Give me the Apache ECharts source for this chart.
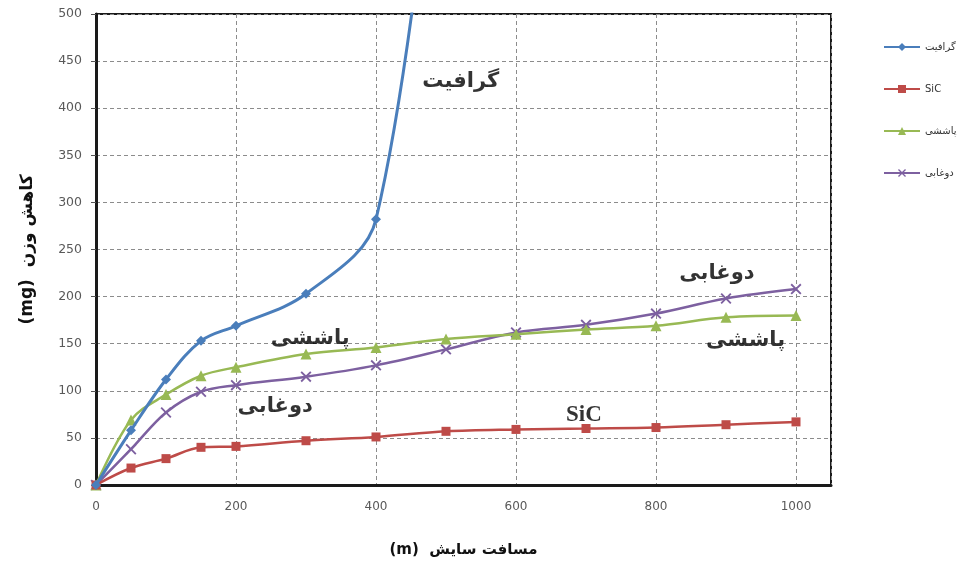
<!DOCTYPE html>
<html><head><meta charset="utf-8">
<script src="https://cdn.jsdelivr.net/npm/echarts@6/dist/echarts.min.js"></script>
<style>html,body{margin:0;padding:0;background:#fff}#c{width:960px;height:563px}</style>
</head><body><div id="c"></div><script>
// Wear distance (m) and weight loss (mg) for four surface treatments
const distance = [0, 50, 100, 150, 200, 300, 400, 500, 600, 700, 800, 900, 1000];
const graphite = [0, 58, 112, 153, 169, 203, 282, 830]; // last reading runs off the top of the scale
const sic      = [0, 18, 28, 40, 41, 47, 51, 57, 59, 60, 61, 64, 67];
const sprayed  = [0, 69, 96, 116, 125, 139, 146, 155, 160, 165, 169, 178, 180];
const slurry   = [0, 38, 77, 99, 106, 115, 127, 144, 162, 170, 182, 198, 208];
const seriesNames = ['گرافیت', 'SiC', 'پاششی', 'دوغابی'];
const yTicks = [0, 500, 50];   // min, max, step
const xTicks = [0, 1050, 200];

// in-plot captions, placed in data coordinates
const notes = [
  { text: 'گرافیت', at: [521, 428] },
  { text: 'پاششی', at: [306, 156] },
  { text: 'دوغابی', at: [256, 83] },
  { text: 'SiC', at: [697, 74] },
  { text: 'دوغابی', at: [887, 224] },
  { text: 'پاششی', at: [928, 153] }
];

const pairs = vals => vals.map((v, i) => [distance[i], v]);
const crossPath = 'path://M0,1.2L1.2,0L5,3.8L8.8,0L10,1.2L6.2,5L10,8.8L8.8,10L5,6.2L1.2,10L0,8.8L3.8,5Z';

const colors = ['#4a7ebb', '#be4b48', '#98b954', '#7d60a0'];
const symbols = ['diamond', 'rect', 'triangle', crossPath];
const sizes = [10, 9, 11, 11];
const widths = [3, 2.5, 2.5, 2.5];
const dataSets = [graphite, sic, sprayed, slurry];

const lineSeries = dataSets.map((d, k) => ({
  name: seriesNames[k],
  type: 'line',
  data: pairs(d),
  smooth: 0.35,
  clip: true,
  symbol: symbols[k],
  symbolSize: sizes[k],
  showAllSymbol: true,
  lineStyle: { color: colors[k], width: widths[k] },
  itemStyle: { color: colors[k] },
  z: 3 + (3 - k)
}));

const noteSeries = {
  name: 'captions',
  type: 'scatter',
  symbolSize: 1,
  itemStyle: { color: 'transparent' },
  silent: true,
  z: 10,
  data: notes.map(n => ({
    value: n.at,
    label: {
      show: true,
      position: 'inside',
      formatter: n.text,
      color: '#000',
      textBorderWidth: 0,
      fontWeight: 'bold',
      fontSize: n.text === 'SiC' ? 23 : 21,
      fontFamily: n.text === 'SiC' ? '"Liberation Serif", serif' : '"DejaVu Sans", sans-serif'
    }
  }))
};

const chart = echarts.init(document.getElementById('c'), null, { renderer: 'canvas' });
chart.setOption({
  animation: false,
  backgroundColor: '#fff',
  grid: {
    left: 96, right: 129, top: 14, bottom: 73,
    show: true, borderColor: '#1a1a1a', borderWidth: 2, backgroundColor: 'transparent'
  },
  legend: {
    data: seriesNames,
    orient: 'vertical',
    left: 878,
    top: 37,
    itemGap: 32,
    itemWidth: 36,
    itemHeight: 10,
    textStyle: { fontSize: 10, color: '#333', fontFamily: '"DejaVu Sans", sans-serif' }
  },
  xAxis: {
    type: 'value',
    min: xTicks[0], max: xTicks[1], interval: xTicks[2],
    name: '(m)  مسافت سایش',
    nameLocation: 'middle',
    nameGap: 58,
    nameTextStyle: { fontSize: 15, fontWeight: 'bold', color: '#111', fontFamily: '"DejaVu Sans", sans-serif' },
    axisLine: { show: true, lineStyle: { color: '#1a1a1a', width: 3 } },
    axisTick: { show: false },
    axisLabel: {
      color: '#595959', fontSize: 12, margin: 16, showMaxLabel: false,
      fontFamily: '"DejaVu Sans", sans-serif',
      formatter: v => String(v)
    },
    splitLine: { show: true, lineStyle: { color: '#8c8c8c', type: [4, 3], width: 1 } }
  },
  yAxis: {
    type: 'value',
    min: yTicks[0], max: yTicks[1], interval: yTicks[2],
    name: '(mg)  کاهش وزن',
    nameLocation: 'middle',
    nameGap: 60,
    nameRotate: 90,
    nameTextStyle: { fontSize: 17, fontWeight: 'bold', color: '#111', fontFamily: '"DejaVu Sans", sans-serif' },
    axisLine: { show: true, lineStyle: { color: '#1a1a1a', width: 3 } },
    axisTick: { show: true, length: 5, lineStyle: { color: '#555' } },
    axisLabel: { color: '#595959', fontSize: 12.5, margin: 14, fontFamily: '"DejaVu Sans", sans-serif' },
    splitLine: { show: true, lineStyle: { color: '#8c8c8c', type: [4, 3], width: 1 } }
  },
  series: [...lineSeries, noteSeries]
});
</script></body></html>
